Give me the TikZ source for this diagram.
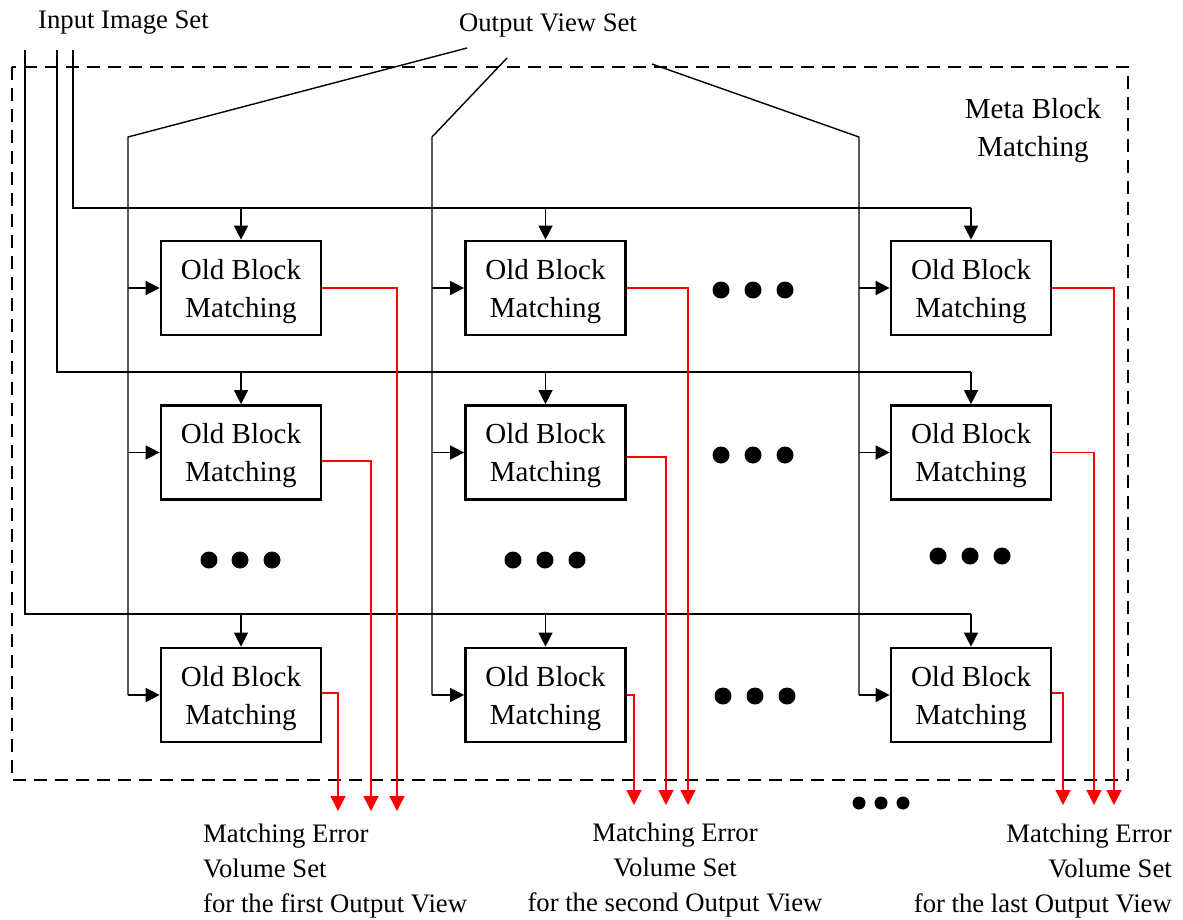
\documentclass[tikz,border=0pt]{standalone}
\usepackage{fontspec}
\setmainfont{Liberation Serif}
\usetikzlibrary{arrows.meta}
\begin{document}
\begin{tikzpicture}[x=1pt,y=-1pt,
  blk/.style={draw,line width=2.7pt,minimum width=160pt,minimum height=94pt,inner sep=0pt,align=center,text depth=0pt,font=\fontsize{29}{38}\selectfont},
  wire/.style={line width=1.4pt},
  feed/.style={wire,-{Triangle[width=14pt,length=14pt]}},
  outw/.style={line width=1.5pt,draw=red,-{Triangle[width=15pt,length=15pt]},color=red},
  lbl/.style={inner sep=0pt,font=\fontsize{26.7}{35}\selectfont},
  dot/.style={fill=black}
]
\useasboundingbox (0,0) rectangle (1183,920);

% meta block frame
\draw[line width=2.7pt,dash pattern=on 13pt off 8pt] (12,67) rectangle (1128,780);
\node[inner sep=0pt,anchor=north,align=center,font=\fontsize{29}{38}\selectfont] (meta) at (1033,98) {Meta Block\\Matching};

% blocks
\node[blk] (b11) at (241,288) {Old Block\\Matching};
\node[blk] (b12) at (545.5,288) {Old Block\\Matching};
\node[blk] (b13) at (971,288) {Old Block\\Matching};
\node[blk] (b21) at (241,452.5) {Old Block\\Matching};
\node[blk] (b22) at (545.5,452.5) {Old Block\\Matching};
\node[blk] (b23) at (971,452.5) {Old Block\\Matching};
\node[blk] (b31) at (241,695) {Old Block\\Matching};
\node[blk] (b32) at (545.5,695) {Old Block\\Matching};
\node[blk] (b33) at (971,695) {Old Block\\Matching};

% labels
\node[lbl,anchor=base west] (ins) at (38,28.5) {Input Image Set};
\node[lbl,anchor=base] (ovs) at (548,32) {Output View Set};

% input image lines
\coordinate (i1) at (25,50);
\coordinate (i2) at (57,50);
\coordinate (i3) at (73,50);
\coordinate (h1) at (971,208);
\coordinate (h2) at (971,372);
\coordinate (h3) at (971,614);
\draw[wire] (i3) |- (h1);
\draw[wire] (i2) |- (h2);
\draw[wire] (i1) |- (h3);
\foreach \c in {1,2,3}{
  \draw[feed] (b1\c.north |- h1) -- (b1\c.north);
  \draw[feed] (b2\c.north |- h2) -- (b2\c.north);
  \draw[feed] (b3\c.north |- h3) -- (b3\c.north);
}

% output view lines
\coordinate (o1) at (467,48);
\coordinate (o2) at (507,58);
\coordinate (o3) at (652,64);
\coordinate (k1) at (128,137);
\coordinate (k2) at (432,137);
\coordinate (k3) at (859,137);
\foreach \c in {1,2,3}{
  \draw[wire] (o\c) -- (k\c) -- (k\c |- b3\c.west);
  \draw[feed] (k\c |- b1\c.west) -- (b1\c.west);
  \draw[feed] (k\c |- b2\c.west) -- (b2\c.west);
  \draw[feed] (k\c |- b3\c.west) -- (b3\c.west);
}

% red outputs
\coordinate (t11) at (397,811);
\coordinate (t21) at (371,811);
\coordinate (t31) at (338,811);
\coordinate (t12) at (688,805);
\coordinate (t22) at (666,805);
\coordinate (t32) at (634,805);
\coordinate (t13) at (1114,805);
\coordinate (t23) at (1094,805);
\coordinate (t33) at (1063,805);
\draw[outw] (b11.east) -| (t11);
\draw[outw] ([yshift=-8.5pt]b21.east) -| (t21);
\draw[outw] ([yshift=2pt]b31.east) -| (t31);
\draw[outw] (b12.east) -| (t12);
\draw[outw] ([yshift=-4.5pt]b22.east) -| (t22);
\draw[outw] (b32.east) -| (t32);
\draw[outw] (b13.east) -| (t13);
\draw[outw] (b23.east) -| (t23);
\draw[outw] ([yshift=2pt]b33.east) -| (t33);

% ellipsis dots
\foreach \x/\y in {721/290,753/290,785/290, 721/455,753/455,785/455, 723/696,755/696,787/696,
                   209/560,240/560,272/560, 513/560,545/560,577/560, 938/556,970/556,1002/556}{
  \fill[dot] (\x,\y) circle (8.5pt);
}
\foreach \x in {859,881,903}{
  \fill[dot] (\x,803) circle (6.5pt);
}

% output labels
\node[lbl,anchor=north west,align=left] (m1) at (203,824) {Matching Error\\Volume Set\\for the first Output View};
\node[lbl,anchor=north,align=center] (m2) at (675,823) {Matching Error\\Volume Set\\for the second Output View};
\node[lbl,anchor=north east,align=right] (m3) at (1172,824) {Matching Error\\Volume Set\\for the last Output View};
\end{tikzpicture}
\end{document}
